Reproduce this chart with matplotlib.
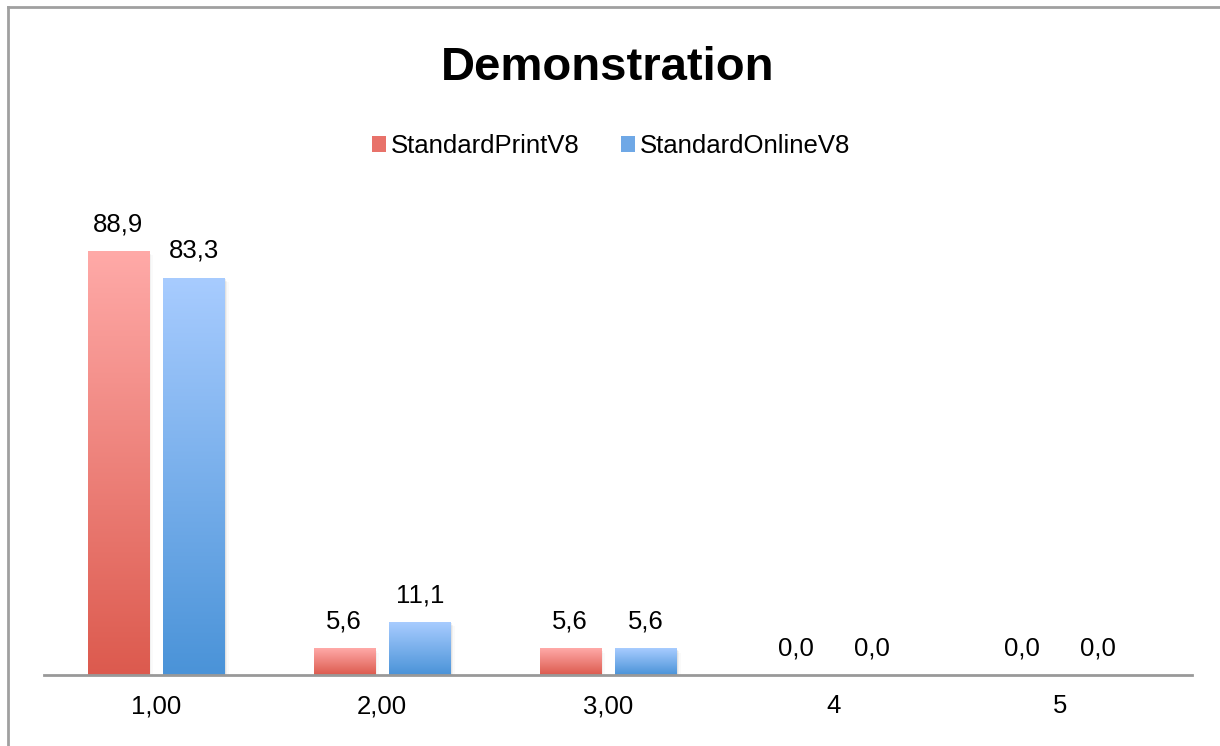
import matplotlib.pyplot as plt
import numpy as np
from matplotlib.colors import LinearSegmentedColormap
from matplotlib.lines import Line2D
from matplotlib.patches import Patch

plt.rcParams['font.family'] = ['Liberation Sans', 'DejaVu Sans']

# Data
categories = ['1,00', '2,00', '3,00', '4', '5']
print_v8 = [88.9, 5.6, 5.6, 0.0, 0.0]
online_v8 = [83.3, 11.1, 5.6, 0.0, 0.0]
series_names = ['StandardPrintV8', 'StandardOnlineV8']

red_top, red_bot = '#ffaaa8', '#dc5a4e'
blue_top, blue_bot = '#a8ccff', '#4a93d8'

W, H = 1220, 746
fig = plt.figure(figsize=(W / 100, H / 100), dpi=100)
ax = fig.add_axes([44 / W, (H - 675) / H, (1192 - 44) / W, (675 - 190) / H])

x = np.arange(len(categories))
width = 0.27
offset = 0.168
ymax = (675 - 190) / 4.77


def gradient_bars(xpos, values, top, bot):
    bars = ax.bar(xpos, values, width, color=bot, linewidth=0, zorder=2)
    cmap = LinearSegmentedColormap.from_list('g', [bot, top])
    grad = np.linspace(0, 1, 256).reshape(-1, 1)
    for b, v in zip(bars, values):
        if v <= 0:
            continue
        x0 = b.get_x()
        # soft drop shadow
        for k, a in enumerate([0.06, 0.04, 0.02]):
            ax.bar(x0 + width / 2 + 0.004 * (k + 1), v, width + 0.004 * (k + 1),
                   bottom=-0.3 * (k + 1), color='black', alpha=a,
                   linewidth=0, zorder=1)
        im = ax.imshow(grad, cmap=cmap, origin='lower', aspect='auto',
                       extent=[x0, x0 + width, 0, v], zorder=3)
        im.set_clip_path(b)
    return bars


gradient_bars(x - offset, print_v8, red_top, red_bot)
gradient_bars(x + offset, online_v8, blue_top, blue_bot)

for xi, v in zip(x - offset, print_v8):
    ax.text(xi, v + 3.1, f'{v:.1f}'.replace('.', ','), ha='center',
            va='bottom', fontsize=18.5, color='black')
for xi, v in zip(x + offset, online_v8):
    ax.text(xi, v + 3.1, f'{v:.1f}'.replace('.', ','), ha='center',
            va='bottom', fontsize=18.5, color='black')

ax.set_xlim((44 - 156) / 226, (1192 - 156) / 226)
ax.set_ylim(0, ymax)
ax.set_xticks(x)
ax.set_xticklabels(categories, fontsize=18.5)
ax.tick_params(axis='x', length=0, pad=14)
ax.set_yticks([])
for s in ['top', 'right', 'left']:
    ax.spines[s].set_visible(False)
ax.spines['bottom'].set_color('#999999')
ax.spines['bottom'].set_linewidth(2)
ax.spines['bottom'].set_zorder(4)

fig.text(608 / W, 1 - 68 / H, 'Demonstration', ha='center', va='center',
         fontsize=34, fontweight='bold')

handles = [Patch(facecolor='#e8726a', edgecolor='none'),
           Patch(facecolor='#6fa8e6', edgecolor='none')]
fig.legend(handles, series_names, loc='center', bbox_to_anchor=(611 / W, 1 - 146 / H),
           ncol=2, frameon=False, fontsize=18.5, handlelength=0.55,
           handleheight=0.55, handletextpad=0.2, columnspacing=1.6)

# outer frame (top and left edges)
fig.add_artist(Line2D([8 / W, 1], [1 - 7 / H, 1 - 7 / H], color='#a0a0a0', lw=2))
fig.add_artist(Line2D([8 / W, 8 / W], [0, 1 - 7 / H], color='#a0a0a0', lw=2))

fig.savefig('out.png', dpi=100)
